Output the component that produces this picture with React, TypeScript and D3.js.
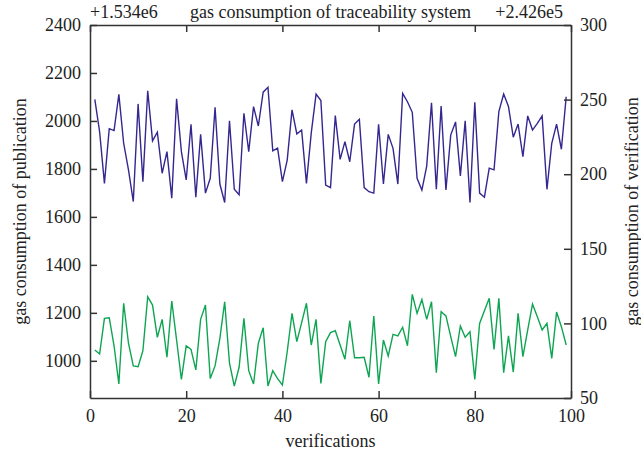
import { useEffect, useRef } from "react";
import * as d3 from "d3";

const W = 641;
const H = 456;
const MARGIN = { top: 25, right: 70, bottom: 58, left: 90 };

// gas consumption of publication (offset +1.534e6), left axis
const publication: number[] = [
  2090, 1955, 1740, 1968, 1960, 2111, 1907, 1796, 1664, 2071,
  1747, 2126, 1917, 1953, 1782, 1872, 1678, 2092, 1872, 1754,
  1986, 1682, 1944, 1699, 1761, 2057, 1737, 1660, 2001, 1715,
  1692, 2032, 1872, 2060, 1979, 2120, 2140, 1875, 1887, 1747,
  1837, 2046, 1946, 1962, 1740, 1950, 2112, 2085, 1733, 1722,
  2022, 1840, 1914, 1830, 1987, 2007, 1722, 1705, 1699, 1986,
  1737, 1944, 1886, 1737, 2115, 2080, 2036, 1761, 1712, 1812,
  2076, 1715, 2062, 1712, 1942, 1996, 1771, 2001, 1660, 2078,
  1699, 1682, 1803, 1796, 2039, 2112, 2060, 1932, 1987, 1851,
  2021, 1962, 1990, 2021, 1715, 1907, 1987, 1882, 2101,
];

// gas consumption of verification (offset +2.426e5), right axis
const verification: number[] = [
  82.2, 79.5, 103.4, 103.8, 85, 59.4, 113.5, 86.7, 71.5, 71,
  81.7, 117.9, 112.3, 90.7, 102.7, 77.3, 115, 88.9, 62.5, 85,
  82.6, 68.8, 102.7, 112.3, 63, 71.5, 90, 114.5, 73.3, 58,
  70.6, 103.4, 68.3, 59.4, 86.7, 97.1, 58, 68.3, 63, 58.7,
  81, 106.7, 87.8, 100.5, 113.5, 85.5, 102.7, 59.8, 87.8, 93.8,
  95.1, 85.5, 76, 101.8, 77, 77, 77.3, 63.9, 105, 59.4,
  88.9, 78.2, 92.7, 91.6, 97.4, 85, 119.5, 106.7, 116, 102.7,
  114.5, 67, 107.8, 105, 91.1, 77.7, 98.3, 90.7, 94.4, 62.5,
  100, 108.5, 116.8, 82.6, 116.8, 67, 91.6, 67.4, 106.7, 77.7,
  95.6, 113, 104.5, 95.6, 100, 76.6, 107.6, 97.8, 85.5,
];

const xTicks = [0, 20, 40, 60, 80, 100];
const yTicks = [1000, 1200, 1400, 1600, 1800, 2000, 2200, 2400];
const y2Ticks = [50, 100, 150, 200, 250, 300];

const FONT = "'Liberation Serif', 'DejaVu Serif', serif";
const BLUE = "#34278f";
const GREEN = "#0ea552";
const AXIS = "#333333";

export default function App() {
  const axesRef = useRef<SVGGElement>(null);
  const x0 = MARGIN.left;
  const x1 = W - MARGIN.right;
  const y0 = H - MARGIN.bottom;
  const y1 = MARGIN.top;

  const xScale = d3.scaleLinear().domain([0, 100]).range([x0, x1]);
  const yScale = d3.scaleLinear().domain([845, 2400]).range([y0, y1]);
  const y2Scale = d3.scaleLinear().domain([50, 300]).range([y0, y1]);

  const pubLine = d3
    .line<number>()
    .x((_, i) => xScale(i + 1))
    .y((d) => yScale(d));
  const verLine = d3
    .line<number>()
    .x((_, i) => xScale(i + 1))
    .y((d) => y2Scale(d));

  useEffect(() => {
    const g = d3.select(axesRef.current);
    g.selectAll("*").remove();
    const fmt = d3.format("d");

    const style = (sel: any) => {
      sel.selectAll("path").attr("stroke", AXIS).attr("stroke-width", 1.5);
      sel.selectAll("line").attr("stroke", AXIS).attr("stroke-width", 1.5);
      sel
        .selectAll("text")
        .attr("fill", "#222")
        .style("font-family", FONT)
        .style("font-size", "18px");
    };

    g.append("g")
      .attr("transform", `translate(0,${y0})`)
      .call(d3.axisBottom(xScale).tickValues(xTicks).tickFormat(fmt).tickSizeInner(-7).tickSizeOuter(0).tickPadding(11))
      .call(style);
    g.append("g")
      .attr("transform", `translate(0,${y1})`)
      .call(d3.axisTop(xScale).tickValues(xTicks).tickSizeInner(-7).tickSizeOuter(0).tickFormat(() => ""))
      .call(style);
    g.append("g")
      .attr("transform", `translate(${x0},0)`)
      .call(d3.axisLeft(yScale).tickValues(yTicks).tickFormat(fmt).tickSizeInner(-7).tickSizeOuter(0).tickPadding(9))
      .call(style);
    g.append("g")
      .attr("transform", `translate(${x1},0)`)
      .call(d3.axisRight(y2Scale).tickValues(y2Ticks).tickFormat(fmt).tickSizeInner(-7).tickSizeOuter(0).tickPadding(9))
      .call(style);
    g.selectAll(".domain").attr("fill", "none");
  }, []);

  return (
    <svg width={W} height={H} style={{ position: "absolute", left: 0, top: 0, background: "#fff" }}>
      <path d={pubLine(publication) ?? ""} fill="none" stroke={BLUE} strokeWidth={1.4} />
      <path d={verLine(verification) ?? ""} fill="none" stroke={GREEN} strokeWidth={1.4} />
      <g ref={axesRef} />
      <g fontFamily={FONT} fontSize={18} fill="#222">
        <text x={x0} y={18}>+1.534e6</text>
        <text x={(x0 + x1) / 2} y={18} textAnchor="middle">gas consumption of traceability system</text>
        <text x={x1 - 8} y={18} textAnchor="end">+2.426e5</text>
        <text x={(x0 + x1) / 2} y={447} textAnchor="middle">verifications</text>
        <text transform={`translate(26,${(y0 + y1) / 2}) rotate(-90)`} textAnchor="middle">
          gas consumption of publication
        </text>
        <text transform={`translate(638,${(y0 + y1) / 2}) rotate(-90)`} textAnchor="middle">
          gas consumption of verification
        </text>
      </g>
    </svg>
  );
}
